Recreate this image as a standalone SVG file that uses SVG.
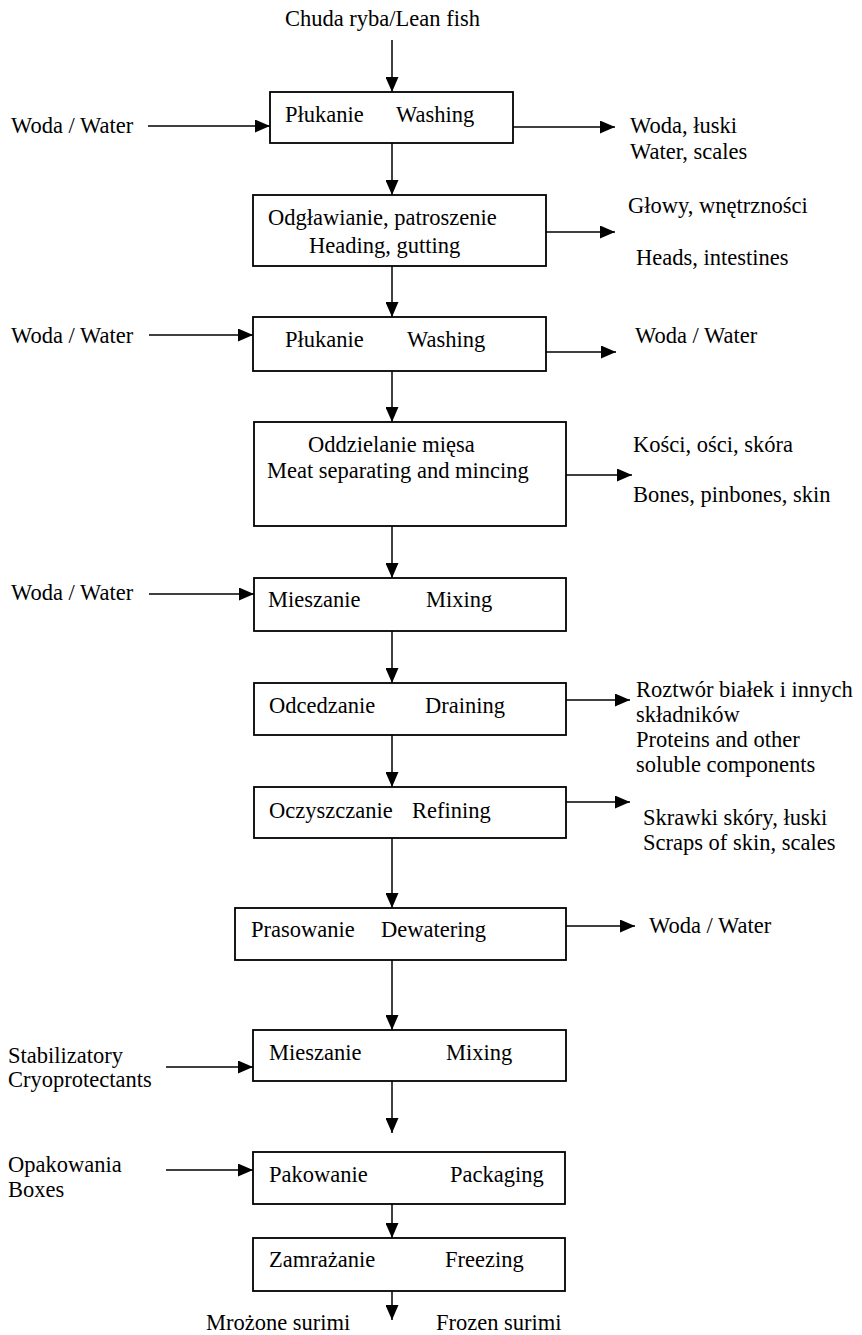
<svg xmlns="http://www.w3.org/2000/svg" width="862" height="1335" viewBox="0 0 862 1335">
<style>
.box{fill:#fff;stroke:#000;stroke-width:1.8}
.c line{stroke:#000;stroke-width:1.5;marker-end:url(#ah)}
</style>
<defs>
<marker id="ah" markerUnits="userSpaceOnUse" markerWidth="15" markerHeight="13" refX="15" refY="6.5" orient="auto">
<path d="M0,0 L15,6.5 L0,13 z" fill="#000"/>
</marker>
</defs>
<rect width="862" height="1335" fill="#fff"/>
<g class="c" id="connectors">
<line x1="392" y1="40" x2="392" y2="92"/>
<line x1="392" y1="143" x2="392" y2="195"/>
<line x1="392" y1="266" x2="392" y2="317"/>
<line x1="392" y1="371" x2="392" y2="422"/>
<line x1="392" y1="526" x2="392" y2="578"/>
<line x1="392" y1="631" x2="392" y2="683"/>
<line x1="392" y1="735" x2="392" y2="787"/>
<line x1="392" y1="838" x2="392" y2="908"/>
<line x1="392" y1="960" x2="392" y2="1030"/>
<line x1="392" y1="1081" x2="392" y2="1133"/>
<line x1="392" y1="1204" x2="392" y2="1238"/>
<line x1="392" y1="1291" x2="392" y2="1320"/>
<line x1="148" y1="126" x2="270" y2="126"/>
<line x1="513" y1="127" x2="615" y2="127"/>
<line x1="546" y1="232" x2="615" y2="232"/>
<line x1="149" y1="335" x2="253" y2="335"/>
<line x1="546" y1="352" x2="616" y2="352"/>
<line x1="566" y1="475" x2="632" y2="475"/>
<line x1="149" y1="594" x2="254" y2="594"/>
<line x1="566" y1="700" x2="630" y2="700"/>
<line x1="566" y1="802" x2="630" y2="802"/>
<line x1="566" y1="926" x2="635" y2="926"/>
<line x1="166" y1="1067" x2="253" y2="1067"/>
<line x1="166" y1="1170" x2="253" y2="1170"/>
</g>
<g font-family="Liberation Serif, DejaVu Serif, serif" font-size="22.5" fill="#000">
<g id="n-input"><text x="285" y="26">Chuda ryba/Lean fish</text></g>
<g id="n-washing1"><rect class="box" x="270" y="92" width="243" height="51"/><text x="285" y="122">Płukanie</text><text x="396" y="122">Washing</text></g>
<g id="n-water-in1"><text x="11" y="133">Woda / Water</text></g>
<g id="n-out1"><text x="630" y="133">Woda, łuski</text><text x="630" y="159">Water, scales</text></g>
<g id="n-heading"><rect class="box" x="253" y="195" width="293" height="71"/><text x="268" y="225">Odgławianie, patroszenie</text><text x="309" y="253">Heading, gutting</text></g>
<g id="n-out2"><text x="628" y="213">Głowy, wnętrzności</text><text x="636" y="265">Heads, intestines</text></g>
<g id="n-washing2"><rect class="box" x="253" y="317" width="293" height="54"/><text x="285" y="347">Płukanie</text><text x="407" y="347">Washing</text></g>
<g id="n-water-in2"><text x="11" y="343">Woda / Water</text></g>
<g id="n-out3"><text x="635" y="343">Woda / Water</text></g>
<g id="n-separating"><rect class="box" x="254" y="422" width="312" height="104"/><text x="308" y="452">Oddzielanie mięsa</text><text x="267" y="478">Meat separating and mincing</text></g>
<g id="n-out4"><text x="633" y="452">Kości, ości, skóra</text><text x="633" y="502">Bones, pinbones, skin</text></g>
<g id="n-mixing1"><rect class="box" x="254" y="578" width="312" height="53"/><text x="268" y="607">Mieszanie</text><text x="426" y="607">Mixing</text></g>
<g id="n-water-in3"><text x="11" y="600">Woda / Water</text></g>
<g id="n-draining"><rect class="box" x="254" y="683" width="312" height="52"/><text x="269" y="713">Odcedzanie</text><text x="425" y="713">Draining</text></g>
<g id="n-out5"><text x="636" y="697">Roztwór białek i innych</text><text x="636" y="722">składników</text><text x="636" y="747">Proteins and other</text><text x="636" y="772">soluble components</text></g>
<g id="n-refining"><rect class="box" x="254" y="787" width="312" height="51"/><text x="269" y="818">Oczyszczanie</text><text x="412" y="818">Refining</text></g>
<g id="n-out6"><text x="643" y="825">Skrawki skóry, łuski</text><text x="643" y="850">Scraps of skin, scales</text></g>
<g id="n-dewatering"><rect class="box" x="235" y="908" width="331" height="52"/><text x="251" y="937">Prasowanie</text><text x="381" y="937">Dewatering</text></g>
<g id="n-out7"><text x="649" y="933">Woda / Water</text></g>
<g id="n-mixing2"><rect class="box" x="253" y="1030" width="313" height="51"/><text x="269" y="1060">Mieszanie</text><text x="446" y="1060">Mixing</text></g>
<g id="n-cryo"><text x="8" y="1063">Stabilizatory</text><text x="8" y="1087">Cryoprotectants</text></g>
<g id="n-packaging"><rect class="box" x="253" y="1152" width="312" height="52"/><text x="269" y="1182">Pakowanie</text><text x="450" y="1182">Packaging</text></g>
<g id="n-boxes"><text x="8" y="1172">Opakowania</text><text x="8" y="1197">Boxes</text></g>
<g id="n-freezing"><rect class="box" x="253" y="1238" width="312" height="53"/><text x="269" y="1267">Zamrażanie</text><text x="445" y="1267">Freezing</text></g>
<g id="n-output"><text x="206" y="1330">Mrożone surimi</text><text x="436" y="1330">Frozen surimi</text></g>
</g>
</svg>
